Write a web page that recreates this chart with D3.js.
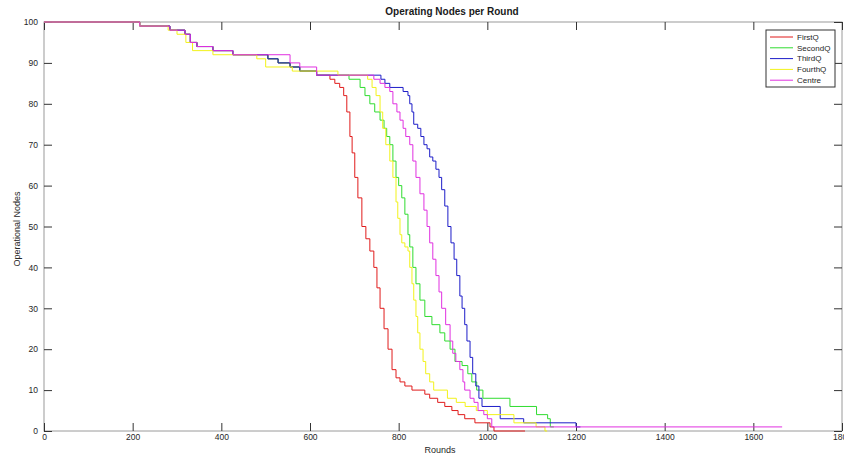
<!DOCTYPE html>
<html>
<head>
<meta charset="utf-8">
<script src="https://cdn.jsdelivr.net/npm/d3@7"></script>
<style>
  body { margin: 0; background: #fff; }
  svg { display: block; font-family: "Liberation Sans", Arial, sans-serif; }
  .axis text { font-size: 8.5px; fill: #262626; }
  .axis .domain { display: none; }
  .axis line { stroke: #333; }
</style>
</head>
<body>
<div id="chart"></div>
<script>
// rounds at which the number of operating nodes changes, and the new count
const firstQRounds = [0, 216, 284, 318, 330, 345, 381, 426, 505, 528, 555, 577, 615, 645, 656, 667, 676, 683, 690, 695, 701, 708, 717, 726, 735, 744, 751, 758, 767, 776, 785, 794, 803, 814, 830, 859, 870, 888, 904, 920, 934, 949, 972, 1006, 1015, 1085];
const firstQNodes  = [100, 99, 98, 97, 95, 94, 93, 92, 91, 90, 89, 88, 87, 86, 85, 84, 82, 78, 72, 68, 62, 57, 50, 47, 44, 40, 35, 30, 25, 20, 15, 13, 12, 11, 10, 9, 8, 7, 6, 5, 4, 3, 2, 1, 0, 0];

const secondQRounds = [0, 216, 284, 318, 330, 345, 381, 426, 505, 528, 555, 577, 615, 688, 713, 724, 735, 746, 758, 767, 773, 780, 787, 794, 800, 807, 814, 821, 825, 832, 839, 848, 859, 875, 893, 904, 916, 927, 943, 956, 965, 976, 990, 1051, 1111, 1136, 1142, 1150];
const secondQNodes  = [100, 99, 98, 97, 95, 94, 93, 92, 91, 90, 89, 88, 87, 86, 84, 82, 80, 78, 76, 74, 72, 70, 66, 62, 60, 57, 53, 48, 45, 40, 36, 32, 28, 26, 24, 22, 20, 17, 16, 14, 12, 10, 8, 6, 4, 3, 1, 1];

const thirdQRounds = [0, 216, 284, 318, 330, 345, 381, 426, 505, 528, 555, 577, 615, 760, 769, 780, 810, 821, 825, 830, 834, 843, 850, 857, 864, 870, 877, 884, 891, 897, 904, 911, 918, 925, 931, 938, 943, 949, 954, 961, 967, 974, 981, 988, 1029, 1082, 1200, 1210];
const thirdQNodes  = [100, 99, 98, 97, 95, 94, 93, 92, 91, 90, 89, 88, 87, 86, 85, 84, 83, 82, 80, 78, 75, 74, 72, 70, 69, 67, 66, 64, 62, 59, 55, 50, 46, 42, 38, 33, 30, 26, 22, 18, 14, 11, 8, 6, 3, 2, 1, 1];

const fourthQRounds = [0, 216, 280, 300, 320, 335, 381, 426, 480, 500, 560, 663, 730, 740, 749, 758, 764, 771, 780, 787, 794, 798, 803, 807, 814, 821, 825, 830, 834, 839, 843, 848, 855, 861, 870, 879, 910, 930, 950, 975, 1000, 1060, 1110, 1130, 1135];
const fourthQNodes  = [100, 99, 98, 97, 95, 93, 92, 92, 91, 89, 88, 87, 86, 84, 82, 78, 74, 70, 66, 62, 56, 52, 48, 46, 45, 44, 40, 36, 32, 28, 24, 20, 17, 14, 12, 10, 8, 7, 6, 5, 4, 2, 1, 0, 0];

const centreRounds = [0, 216, 284, 318, 330, 345, 381, 426, 555, 577, 615, 744, 758, 769, 780, 787, 796, 803, 810, 816, 825, 832, 839, 848, 857, 864, 870, 877, 884, 891, 897, 906, 916, 922, 929, 938, 945, 949, 961, 970, 979, 992, 1000, 1010, 1665];
const centreNodes  = [100, 99, 98, 97, 95, 94, 93, 92, 90, 89, 87, 86, 85, 84, 83, 80, 78, 76, 74, 72, 70, 66, 62, 58, 54, 50, 46, 42, 38, 34, 30, 26, 22, 19, 17, 15, 12, 10, 8, 7, 5, 4, 3, 1, 1];

const seriesNames  = ['FirstQ', 'SecondQ', 'ThirdQ', 'FourthQ', 'Centre'];
const seriesColors = ['#e01b1b', '#2fdc2f', '#1c1cc8', '#f2f21a', '#e030e0'];
const xTicks = [0, 200, 400, 600, 800, 1000, 1200, 1400, 1600, 1800];
const yTicks = [0, 10, 20, 30, 40, 50, 60, 70, 80, 90, 100];

const series = [
  [firstQRounds, firstQNodes],
  [secondQRounds, secondQNodes],
  [thirdQRounds, thirdQNodes],
  [fourthQRounds, fourthQNodes],
  [centreRounds, centreNodes]
].map(([r, n], i) => ({
  name: seriesNames[i],
  color: seriesColors[i],
  values: r.map((d, j) => ({round: d, nodes: n[j]}))
}));

const W = 844, H = 455;
const margin = {top: 22, right: 2, bottom: 24, left: 44};
const width = W - margin.left - margin.right,
  height = H - margin.top - margin.bottom;

const x = d3.scaleLinear().domain([0, 1800]).range([0, width]);
const y = d3.scaleLinear().domain([0, 100]).range([height, 0]);

const svg = d3.select('#chart').append('svg')
  .attr('width', W)
  .attr('height', H);

const g = svg.append('g')
  .attr('transform', `translate(${margin.left},${margin.top})`);

// box
g.append('rect')
  .attr('width', width)
  .attr('height', height)
  .attr('fill', 'none')
  .attr('stroke', '#9a9a9a')
  .attr('stroke-width', 1);

g.append('g')
  .attr('class', 'x axis')
  .attr('transform', `translate(0,${height})`)
  .call(d3.axisBottom(x).tickValues(xTicks).tickFormat(d3.format('d'))
    .tickSize(-8).tickSizeOuter(0).tickPadding(3));

g.append('g')
  .attr('class', 'x axis')
  .call(d3.axisTop(x).tickValues(xTicks).tickSize(-8).tickSizeOuter(0).tickFormat(''));

g.append('g')
  .attr('class', 'y axis')
  .call(d3.axisLeft(y).tickValues(yTicks).tickSize(-8).tickSizeOuter(0).tickPadding(6));

g.append('g')
  .attr('class', 'y axis')
  .attr('transform', `translate(${width},0)`)
  .call(d3.axisRight(y).tickValues(yTicks).tickSize(-8).tickSizeOuter(0).tickFormat(''));

const line = d3.line()
  .curve(d3.curveStepAfter)
  .x(d => x(d.round))
  .y(d => y(d.nodes));

g.selectAll('.series')
  .data(series)
  .enter().append('path')
  .attr('class', 'series')
  .attr('fill', 'none')
  .attr('stroke', d => d.color)
  .attr('stroke-width', 1)
  .attr('d', d => line(d.values));

// title and axis labels
svg.append('text')
  .attr('x', 452)
  .attr('y', 15)
  .attr('text-anchor', 'middle')
  .style('font-size', '10px')
  .style('font-weight', 'bold')
  .style('fill', '#1a1a1a')
  .text('Operating Nodes per Round');

svg.append('text')
  .attr('x', 440)
  .attr('y', 453)
  .attr('text-anchor', 'middle')
  .style('font-size', '9px')
  .style('fill', '#262626')
  .text('Rounds');

svg.append('text')
  .attr('transform', 'translate(20,229) rotate(-90)')
  .attr('text-anchor', 'middle')
  .style('font-size', '9px')
  .style('fill', '#262626')
  .text('Operational Nodes');

// legend
const legend = svg.append('g')
  .attr('transform', 'translate(766,30)');

legend.append('rect')
  .attr('width', 69)
  .attr('height', 57)
  .attr('fill', '#fff')
  .attr('stroke', '#333')
  .attr('stroke-width', 1);

const item = legend.selectAll('.item')
  .data(series)
  .enter().append('g')
  .attr('class', 'item')
  .attr('transform', (d, i) => `translate(0,${7 + i * 10.8})`);

item.append('line')
  .attr('x1', 4)
  .attr('x2', 27)
  .attr('stroke', d => d.color)
  .attr('stroke-width', 1);

item.append('text')
  .attr('x', 31)
  .attr('dy', '0.35em')
  .style('font-size', '8px')
  .style('fill', '#262626')
  .text(d => d.name);
</script>
</body>
</html>
